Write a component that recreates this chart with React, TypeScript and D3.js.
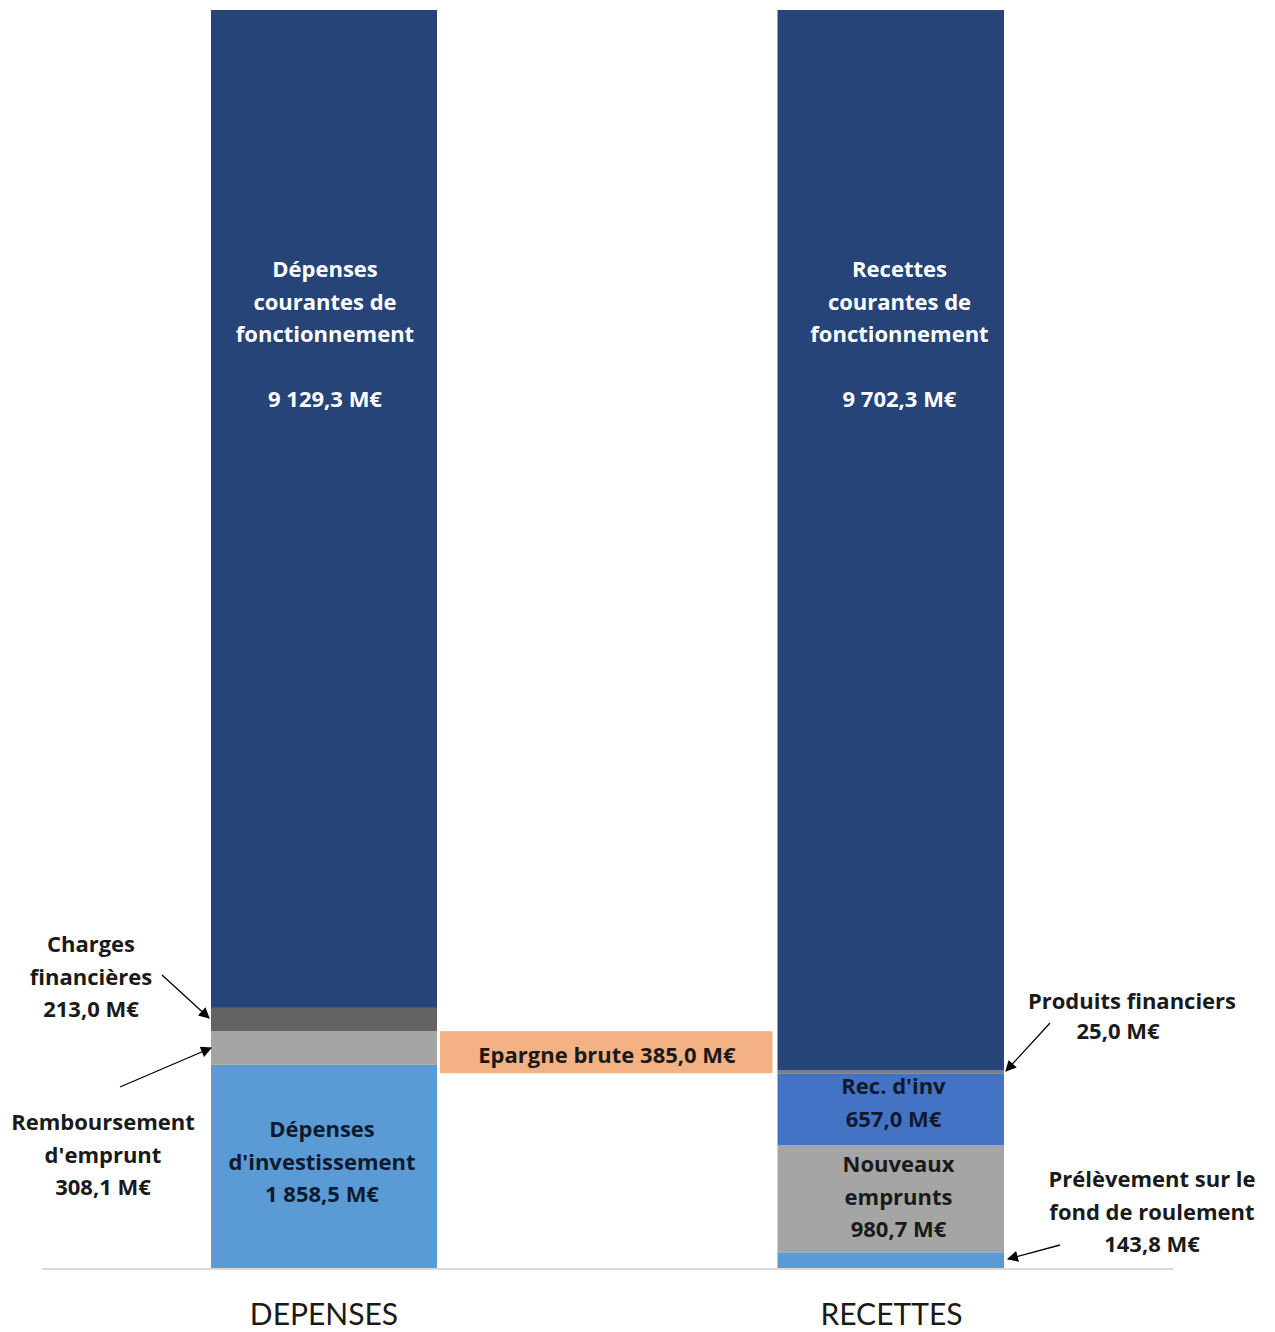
import React from "react";
import * as d3 from "d3";

const categories = ["DEPENSES", "RECETTES"];

const depensesNames = ["Dépenses d'investissement", "Remboursement d'emprunt", "Charges financières", "Dépenses courantes de fonctionnement"];
const depensesValues = [1858.5, 308.1, 213.0, 9129.3];
const depensesColors = ["#5b9bd5", "#a5a5a5", "#636363", "#264478"];

const recettesNames = ["Prélèvement sur le fond de roulement", "Nouveaux emprunts", "Rec. d'inv", "Produits financiers", "Recettes courantes de fonctionnement"];
const recettesValues = [143.8, 980.7, 657.0, 25.0, 9702.3];
const recettesColors = ["#5b9bd5", "#a5a5a5", "#4472c4", "#7f7f7f", "#264478"];

const epargneLabel = "Epargne brute 385,0 M€";
const epargneValue = 385.0;

const W = 1275;
const H = 1332;
const FONT = "'Open Sans', Lato, sans-serif";
const CATFONT = "Lato, 'Open Sans', sans-serif";

function stack(values: number[]) {
  let acc = 0;
  return values.map((v) => {
    const s = { y0: acc, y1: acc + v, v };
    acc += v;
    return s;
  });
}

export default function App() {
  const total = d3.sum(depensesValues);
  const y = d3.scaleLinear().domain([0, total]).range([1268, 10]);
  const x = d3.scalePoint<string>().domain(categories).range([324, 890.5]);
  const bw = 226;

  const depStack = stack(depensesValues);
  const recStack = stack(recettesValues);

  const xd = x("DEPENSES")!;
  const xr = x("RECETTES")!;

  const epTop = depStack[1].y1;
  const epBottom = epTop - epargneValue;

  const Lines = ({ lines, cx, cy, fill, size = 22, lh = 32.5 }: any) => (
    <text textAnchor="middle" fontFamily={FONT} fontWeight={700} fontSize={size} fill={fill}>
      {lines.map((l: string, i: number) => (
        <tspan key={i} x={cx} y={cy + i * lh} dominantBaseline="central">{l}</tspan>
      ))}
    </text>
  );

  const arrow = (x1: number, y1: number, x2: number, y2: number) => (
    <line x1={x1} y1={y1} x2={x2} y2={y2} stroke="#000" strokeWidth={1.3} markerEnd="url(#ah)" />
  );

  return (
    <svg width={W} height={H} style={{ position: "absolute", left: 0, top: 0, background: "#fff" }}>
      <defs>
        <marker id="ah" viewBox="0 0 10 10" refX="9" refY="5" markerWidth="16" markerHeight="11" markerUnits="userSpaceOnUse" orient="auto">
          <path d="M0,0 L10,5 L0,10 z" fill="#000" />
        </marker>
      </defs>
      <rect width={W} height={H} fill="#fff" />
      {depStack.map((s, i) => (
        <rect key={"d" + i} x={xd - bw / 2} width={bw} y={y(s.y1)} height={y(s.y0) - y(s.y1)} fill={depensesColors[i]} />
      ))}
      {recStack.map((s, i) => (
        <rect key={"r" + i} x={xr - bw / 2} width={bw + 0.5} y={y(s.y1)} height={y(s.y0) - y(s.y1)} fill={recettesColors[i]} />
      ))}
      <rect x={xd + bw / 2 + 3} width={xr - bw / 2 - 5 - (xd + bw / 2 + 3)} y={y(epTop)} height={y(epBottom) - y(epTop)} fill="#f4b183" />
      <line x1={42} x2={1173} y1={1269} y2={1269} stroke="#d9d9d9" strokeWidth={2} />

      {categories.map((c) => (
        <text key={c} x={x(c)! + (c === "RECETTES" ? 1 : 0)} y={1325} textAnchor="middle" fontFamily={CATFONT} fontSize={30} fill="#1a1a1a">{c}</text>
      ))}

      <Lines lines={["Dépenses", "courantes de", "fonctionnement"]} cx={xd + 1} cy={268} fill="#fff" />
      <Lines lines={["9 129,3 M€"]} cx={xd + 1} cy={398} fill="#fff" />
      <Lines lines={["Recettes", "courantes de", "fonctionnement"]} cx={xr + 9} cy={268} fill="#fff" />
      <Lines lines={["9 702,3 M€"]} cx={xr + 9} cy={398} fill="#fff" />

      <Lines lines={["Dépenses", "d'investissement", "1 858,5 M€"]} cx={xd - 2} cy={1128} fill="#111a2c" />
      <Lines lines={["Rec. d'inv", "657,0 M€"]} cx={xr + 3} cy={1085} fill="#111a2c" />
      <Lines lines={["Nouveaux", "emprunts", "980,7 M€"]} cx={xr + 8} cy={1163} fill="#1a1a1a" />
      <Lines lines={[epargneLabel]} cx={607} cy={1054} fill="#1a1a1a" />

      <Lines lines={["Charges", "financières", "213,0 M€"]} cx={91} cy={943} fill="#1a1a1a" />
      <Lines lines={["Remboursement", "d'emprunt", "308,1 M€"]} cx={103} cy={1121} fill="#1a1a1a" />
      <Lines lines={["Produits financiers"]} cx={1132} cy={1000} fill="#1a1a1a" />
      <Lines lines={["25,0 M€"]} cx={1118} cy={1030} fill="#1a1a1a" />
      <Lines lines={["Prélèvement sur le", "fond de roulement", "143,8 M€"]} cx={1152} cy={1178} fill="#1a1a1a" />

      {arrow(162, 975, 209, 1018)}
      {arrow(120, 1087, 211, 1048)}
      {arrow(1050, 1023, 1006, 1071)}
      {arrow(1060, 1245, 1008, 1259)}
    </svg>
  );
}
